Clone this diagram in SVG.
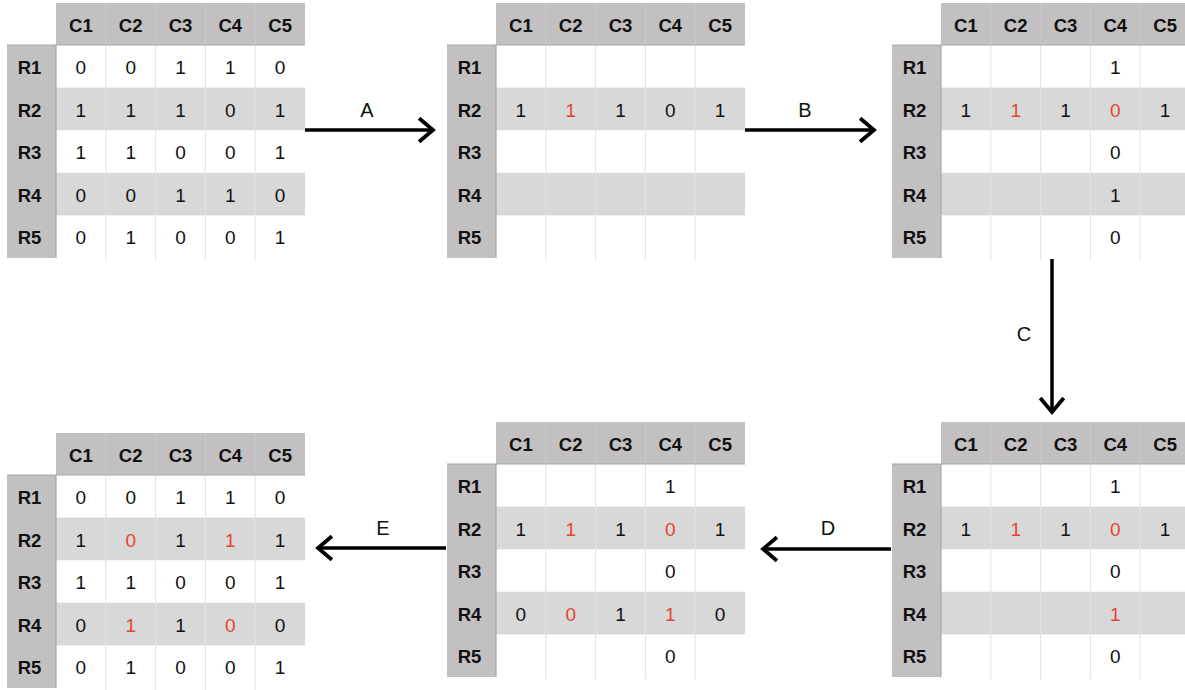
<svg xmlns="http://www.w3.org/2000/svg" xmlns:xlink="http://www.w3.org/1999/xlink" width="1185" height="690" viewBox="0 0 1185 690">
<style>
.hd{font-family:"Liberation Sans",Arial,sans-serif;font-weight:bold;font-size:18.5px;fill:#111;text-anchor:middle}
.v{font-family:"Liberation Sans",Arial,sans-serif;font-size:19px;fill:#111;text-anchor:middle}
.r{fill:#e8432f}
.lbl{font-family:"Liberation Sans",Arial,sans-serif;font-size:20px;fill:#111;text-anchor:middle}
.arr{stroke:#000;stroke-width:3.5;fill:none}
</style>
<defs>
<marker id="ah" markerUnits="userSpaceOnUse" markerWidth="30" markerHeight="30" viewBox="-16 -14 20 28" refX="0" refY="0" orient="auto">
<path d="M-13,-11 L0,0 L-13,11" stroke="#000" stroke-width="3.5" fill="none" stroke-linejoin="miter"/>
</marker>
<g id="grid">
<rect x="0" y="42" width="249" height="213" fill="#fff"/>
<rect x="0" y="84.6" width="249" height="42.6" fill="#d8d8d8"/>
<rect x="0" y="169.8" width="249" height="42.6" fill="#d8d8d8"/>
<rect x="0" y="0" width="249" height="42" fill="#c2c0c1"/>
<rect x="-49" y="42" width="49" height="213" fill="#c2c0c1"/>
<g stroke="#e2e2e2" stroke-width="1">
<line x1="49.8" y1="42" x2="49.8" y2="257"/>
<line x1="99.6" y1="42" x2="99.6" y2="257"/>
<line x1="149.4" y1="42" x2="149.4" y2="257"/>
<line x1="199.2" y1="42" x2="199.2" y2="257"/>
</g>
<g stroke="#cbc9ca" stroke-width="1">
<line x1="49.8" y1="0" x2="49.8" y2="42"/>
<line x1="99.6" y1="0" x2="99.6" y2="42"/>
<line x1="149.4" y1="0" x2="149.4" y2="42"/>
<line x1="199.2" y1="0" x2="199.2" y2="42"/>
</g>
<g stroke="#a8a7a7" stroke-width="1.2">
<line x1="-49" y1="42" x2="249" y2="42"/>
<line x1="0" y1="42" x2="0" y2="255"/>
</g>
<text class="hd" x="24.9" y="28.7">C1</text>
<text class="hd" x="74.7" y="28.7">C2</text>
<text class="hd" x="124.5" y="28.7">C3</text>
<text class="hd" x="174.3" y="28.7">C4</text>
<text class="hd" x="224.1" y="28.7">C5</text>
<text class="hd" x="-26.5" y="71">R1</text>
<text class="hd" x="-26.5" y="113.6">R2</text>
<text class="hd" x="-26.5" y="156.2">R3</text>
<text class="hd" x="-26.5" y="198.8">R4</text>
<text class="hd" x="-26.5" y="241.4">R5</text>
</g>
</defs>

<g id="table1" transform="translate(56,3)">
<use xlink:href="#grid" href="#grid"/>
<text class="v" x="24.9" y="71">0</text><text class="v" x="74.7" y="71">0</text><text class="v" x="124.5" y="71">1</text><text class="v" x="174.3" y="71">1</text><text class="v" x="224.1" y="71">0</text>
<text class="v" x="24.9" y="113.6">1</text><text class="v" x="74.7" y="113.6">1</text><text class="v" x="124.5" y="113.6">1</text><text class="v" x="174.3" y="113.6">0</text><text class="v" x="224.1" y="113.6">1</text>
<text class="v" x="24.9" y="156.2">1</text><text class="v" x="74.7" y="156.2">1</text><text class="v" x="124.5" y="156.2">0</text><text class="v" x="174.3" y="156.2">0</text><text class="v" x="224.1" y="156.2">1</text>
<text class="v" x="24.9" y="198.8">0</text><text class="v" x="74.7" y="198.8">0</text><text class="v" x="124.5" y="198.8">1</text><text class="v" x="174.3" y="198.8">1</text><text class="v" x="224.1" y="198.8">0</text>
<text class="v" x="24.9" y="241.4">0</text><text class="v" x="74.7" y="241.4">1</text><text class="v" x="124.5" y="241.4">0</text><text class="v" x="174.3" y="241.4">0</text><text class="v" x="224.1" y="241.4">1</text>
</g>

<g id="table2" transform="translate(496,3)">
<use xlink:href="#grid" href="#grid"/>
<text class="v" x="24.9" y="113.6">1</text><text class="v r" x="74.7" y="113.6">1</text><text class="v" x="124.5" y="113.6">1</text><text class="v" x="174.3" y="113.6">0</text><text class="v" x="224.1" y="113.6">1</text>
</g>

<g id="table3" transform="translate(941,3)">
<use xlink:href="#grid" href="#grid"/>
<text class="v" x="174.3" y="71">1</text>
<text class="v" x="24.9" y="113.6">1</text><text class="v r" x="74.7" y="113.6">1</text><text class="v" x="124.5" y="113.6">1</text><text class="v r" x="174.3" y="113.6">0</text><text class="v" x="224.1" y="113.6">1</text>
<text class="v" x="174.3" y="156.2">0</text>
<text class="v" x="174.3" y="198.8">1</text>
<text class="v" x="174.3" y="241.4">0</text>
</g>

<g id="table4" transform="translate(941,422)">
<use xlink:href="#grid" href="#grid"/>
<text class="v" x="174.3" y="71">1</text>
<text class="v" x="24.9" y="113.6">1</text><text class="v r" x="74.7" y="113.6">1</text><text class="v" x="124.5" y="113.6">1</text><text class="v r" x="174.3" y="113.6">0</text><text class="v" x="224.1" y="113.6">1</text>
<text class="v" x="174.3" y="156.2">0</text>
<text class="v r" x="174.3" y="198.8">1</text>
<text class="v" x="174.3" y="241.4">0</text>
</g>

<g id="table5" transform="translate(496,422)">
<use xlink:href="#grid" href="#grid"/>
<text class="v" x="174.3" y="71">1</text>
<text class="v" x="24.9" y="113.6">1</text><text class="v r" x="74.7" y="113.6">1</text><text class="v" x="124.5" y="113.6">1</text><text class="v r" x="174.3" y="113.6">0</text><text class="v" x="224.1" y="113.6">1</text>
<text class="v" x="174.3" y="156.2">0</text>
<text class="v" x="24.9" y="198.8">0</text><text class="v r" x="74.7" y="198.8">0</text><text class="v" x="124.5" y="198.8">1</text><text class="v r" x="174.3" y="198.8">1</text><text class="v" x="224.1" y="198.8">0</text>
<text class="v" x="174.3" y="241.4">0</text>
</g>

<g id="table6" transform="translate(56,433)">
<use xlink:href="#grid" href="#grid"/>
<text class="v" x="24.9" y="71">0</text><text class="v" x="74.7" y="71">0</text><text class="v" x="124.5" y="71">1</text><text class="v" x="174.3" y="71">1</text><text class="v" x="224.1" y="71">0</text>
<text class="v" x="24.9" y="113.6">1</text><text class="v r" x="74.7" y="113.6">0</text><text class="v" x="124.5" y="113.6">1</text><text class="v r" x="174.3" y="113.6">1</text><text class="v" x="224.1" y="113.6">1</text>
<text class="v" x="24.9" y="156.2">1</text><text class="v" x="74.7" y="156.2">1</text><text class="v" x="124.5" y="156.2">0</text><text class="v" x="174.3" y="156.2">0</text><text class="v" x="224.1" y="156.2">1</text>
<text class="v" x="24.9" y="198.8">0</text><text class="v r" x="74.7" y="198.8">1</text><text class="v" x="124.5" y="198.8">1</text><text class="v r" x="174.3" y="198.8">0</text><text class="v" x="224.1" y="198.8">0</text>
<text class="v" x="24.9" y="241.4">0</text><text class="v" x="74.7" y="241.4">1</text><text class="v" x="124.5" y="241.4">0</text><text class="v" x="174.3" y="241.4">0</text><text class="v" x="224.1" y="241.4">1</text>
</g>

<g id="connectors">
<line class="arr" x1="305" y1="130" x2="433" y2="130" marker-end="url(#ah)"/>
<text class="lbl" x="367" y="117">A</text>
<line class="arr" x1="745" y1="130" x2="874" y2="130" marker-end="url(#ah)"/>
<text class="lbl" x="805" y="117">B</text>
<line class="arr" x1="1052" y1="259" x2="1052" y2="412" marker-end="url(#ah)"/>
<text class="lbl" x="1024" y="341">C</text>
<line class="arr" x1="891" y1="549" x2="763" y2="549" marker-end="url(#ah)"/>
<text class="lbl" x="828" y="535">D</text>
<line class="arr" x1="446" y1="548" x2="318" y2="548" marker-end="url(#ah)"/>
<text class="lbl" x="383" y="535">E</text>
</g>
</svg>
